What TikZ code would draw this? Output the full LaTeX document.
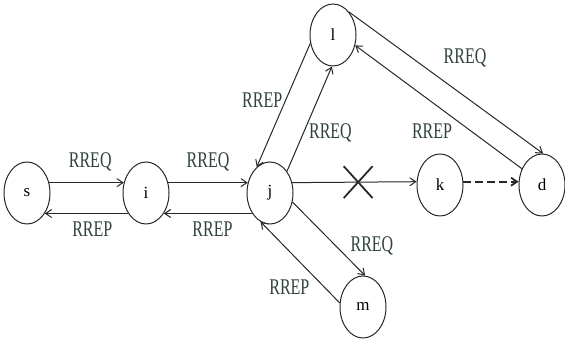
\documentclass[tikz,border=0pt]{standalone}
\usepackage{fontspec}
\setmainfont{Liberation Serif}
\usepackage{graphicx}
\usetikzlibrary{arrows.meta,shapes.geometric,shapes.misc,positioning}
\definecolor{lblgray}{RGB}{48,66,58}
\definecolor{linegray}{RGB}{40,40,40}
\newcommand{\tall}[1]{\scalebox{1}[1.4]{#1}}

\begin{document}
\begin{tikzpicture}[x=1pt,y=1pt,>={Straight Barb[length=6pt,width=8pt]},line width=1pt,draw=linegray,
	state/.style={draw,ellipse,minimum width=46pt,minimum height=62pt,inner sep=0pt,font=\fontsize{17}{20}\selectfont},
	msg/.style={font=\fontsize{16}{18}\selectfont,text=lblgray,inner sep=1pt},
	blocked/.style={draw,cross out,minimum width=27pt,minimum height=30pt,inner sep=0pt,line width=1.8pt}]
	\useasboundingbox (0,0) rectangle (565,344);
		\node[state] (s) at (27,151) {s};
		\node[state] (i) at (146,151) {i};
		\node[state] (j) at (270,151) {j};
		\node[state] (l) at (333,309) {l};
		\node[state] (k) at (440,159) {k};
		\node[state] (d) at (542,159) {d};
		\node[state] (m) at (363,37) {m};
		\path[->]
			(s.25) edge node[msg,pos=.55,above=10pt] {\tall{RREQ}} (i.155)
			(i.229) edge node[msg,pos=.43,below=7pt] {\tall{RREP}} (s.311)
			(i.25) edge node[msg,pos=.5,above=10pt] {\tall{RREQ}} (j.155)
			(j.229) edge node[msg,pos=.45,below=7pt] {\tall{RREP}} (i.311)
			(l.200) edge node[msg,pos=.46,left=2pt] {\tall{RREP}} (j.117)
			(j.52) edge node[msg,pos=.37,right=4pt] {\tall{RREQ}} (l.268)
			(l.55) edge node[msg,pos=.48,anchor=south west,yshift=11pt] {\tall{RREQ}} (d.88)
			(d.141) edge node[msg,pos=.41,anchor=north east,yshift=-4pt] {\tall{RREP}} (l.335)
			(j.338) edge node[msg,pos=.6,right=13pt] {\tall{RREQ}} (m.86)
			(m.170) edge node[msg,pos=.2,left=13pt] {\tall{RREP}} (j.252)
			(j.25) edge node[blocked,pos=.53] {} (k.172)
			(k.8) edge[dash pattern=on 8pt off 4pt,line width=1.8pt] (d.172);
	\end{tikzpicture}
\end{document}
